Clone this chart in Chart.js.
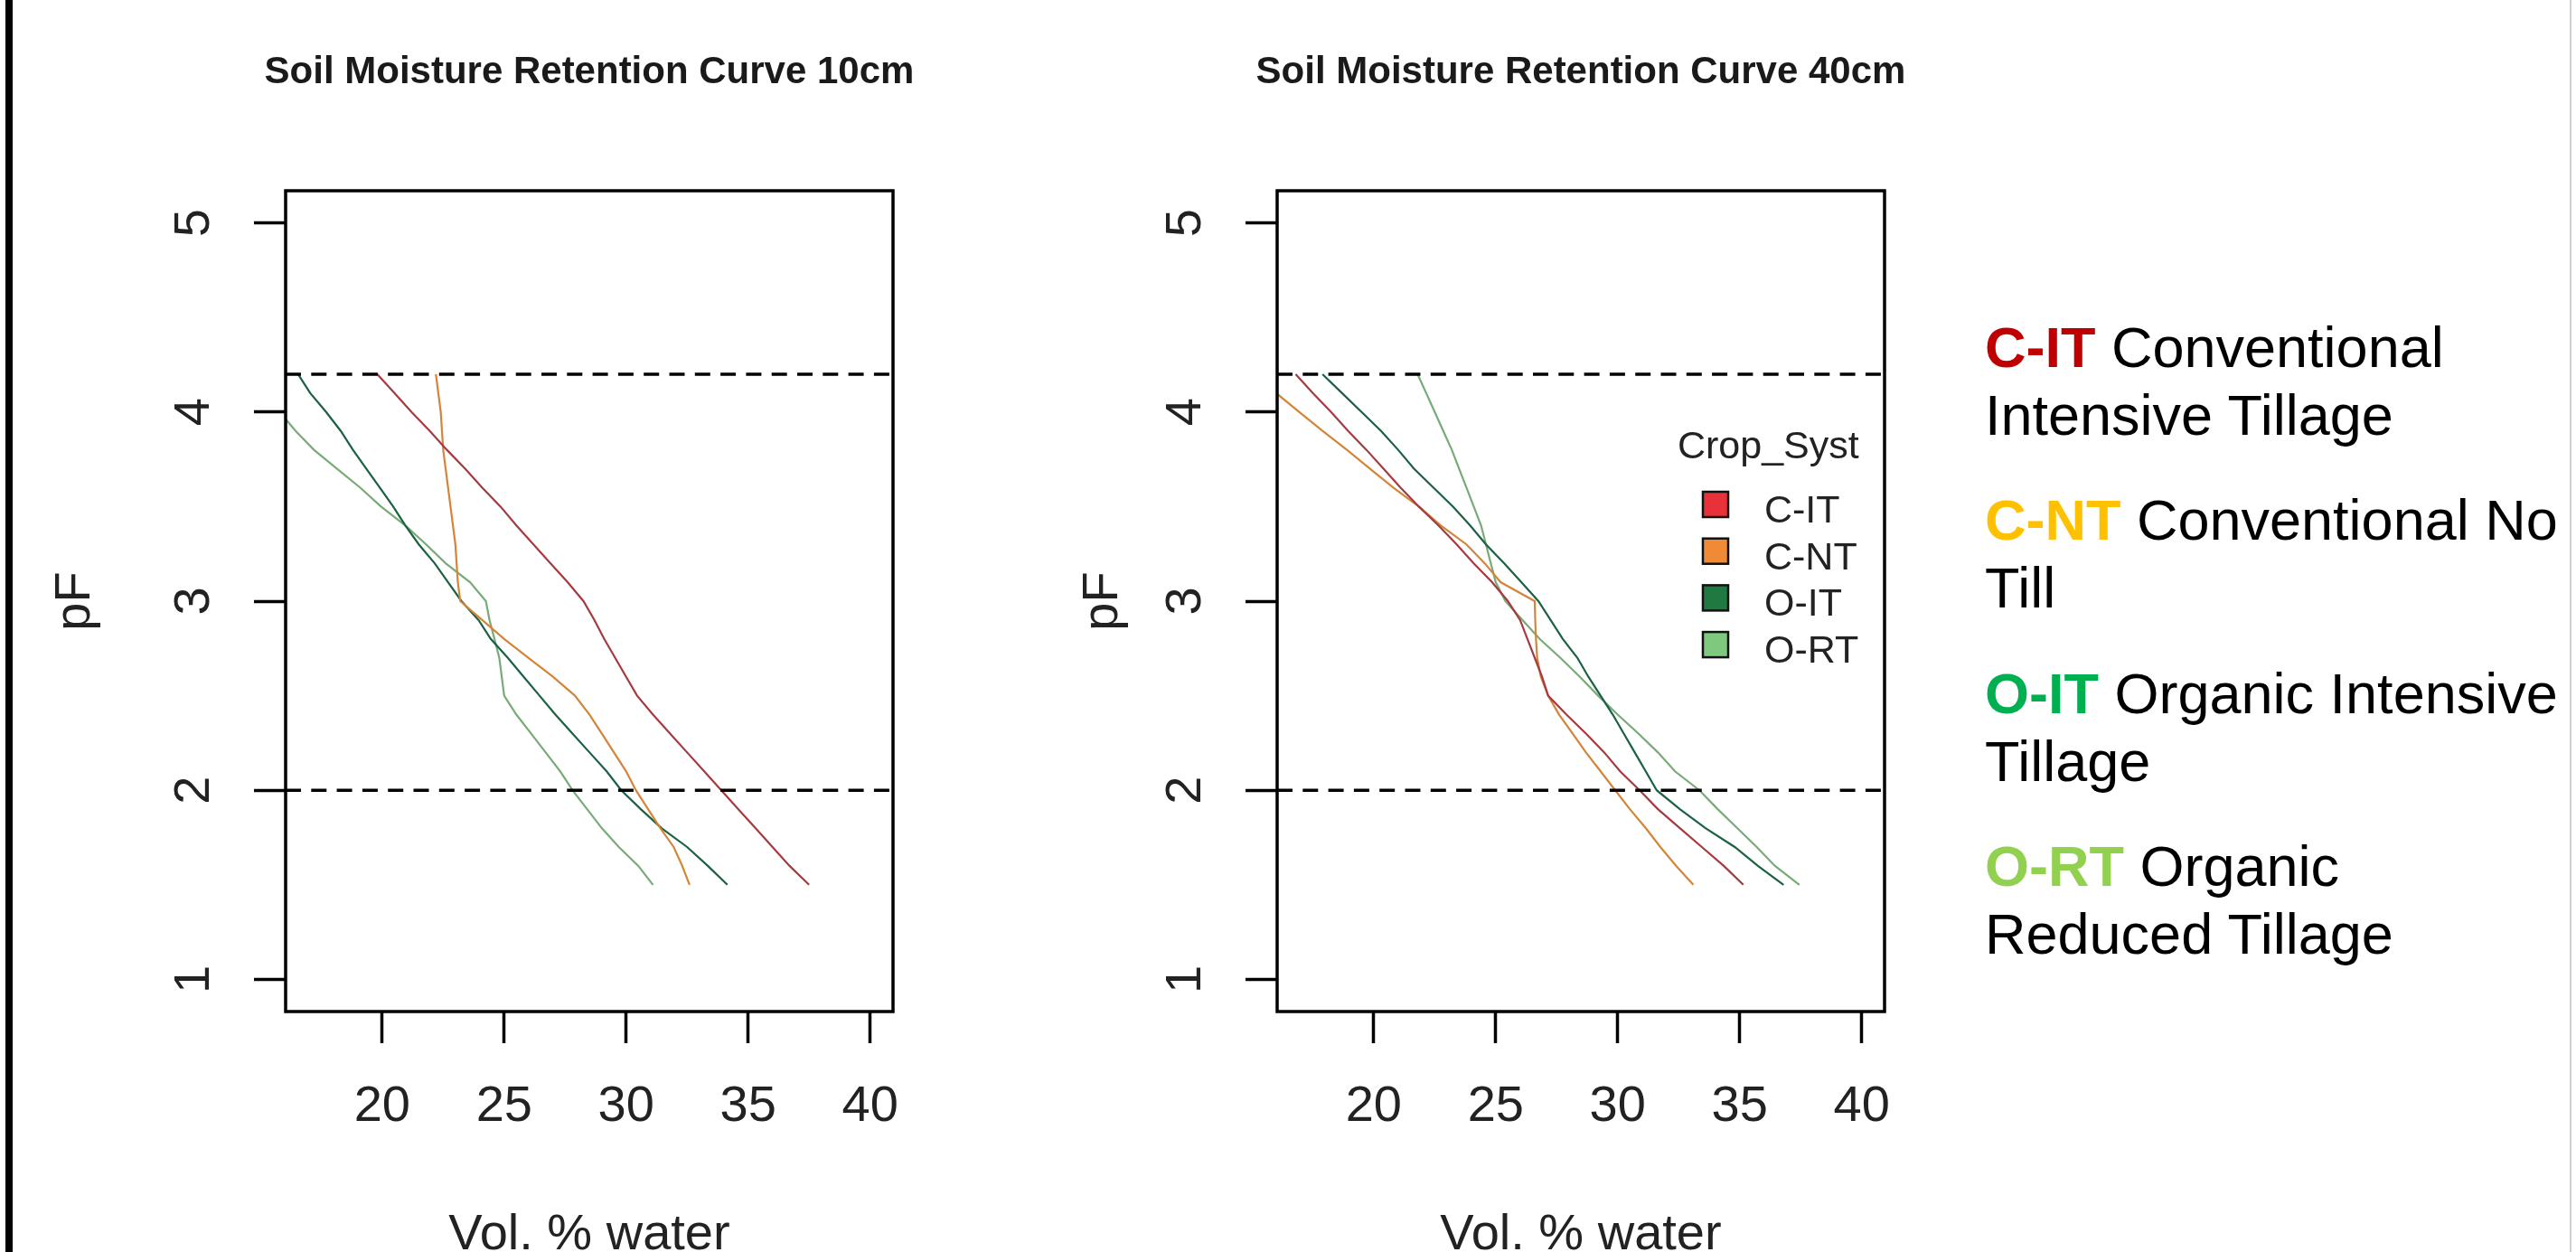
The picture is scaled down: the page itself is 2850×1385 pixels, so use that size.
<!DOCTYPE html>
<html><head><meta charset="utf-8">
<script src="https://cdn.jsdelivr.net/npm/chart.js@4.4.1/dist/chart.umd.min.js"></script>
<style>
html,body{margin:0;padding:0;background:#fff;width:2850px;height:1385px;overflow:hidden;position:relative;}
canvas{position:absolute;top:0;}
#c1{left:0px;}
#c2{left:1097px;}
.bar{position:absolute;left:6px;top:0;width:8px;height:1385px;background:#000;z-index:5;}
.edge{position:absolute;left:2843px;top:0;width:2px;height:1385px;background:#cfcfcf;}
.key{position:absolute;left:2196px;font-family:"Liberation Sans",Arial,sans-serif;font-size:63px;line-height:75px;color:#000;white-space:nowrap;}
.key b{font-weight:bold;}
</style></head>
<body>
<canvas id="c1" width="1100" height="1385"></canvas>
<canvas id="c2" width="1100" height="1385"></canvas>
<div class="bar"></div>
<div class="edge"></div>
<div class="key" style="top:346.7px"><b style="color:#C00000">C-IT</b> Conventional<br>Intensive Tillage</div>
<div class="key" style="top:537.7px"><b style="color:#FFC000">C-NT</b> Conventional No<br>Till</div>
<div class="key" style="top:729.7px"><b style="color:#00B050">O-IT</b> Organic Intensive<br>Tillage</div>
<div class="key" style="top:920.7px"><b style="color:#92D050">O-RT</b> Organic<br>Reduced Tillage</div>
<script>
// ---- data ----
const PF = [4.2, 4.1, 4.0, 3.9, 3.8, 3.7, 3.6, 3.5, 3.4, 3.3, 3.2, 3.1, 3.0, 2.9, 2.8, 2.7, 2.6, 2.5, 2.4, 2.3, 2.2, 2.1, 2.0, 1.9, 1.8, 1.7, 1.6, 1.5];
const groups = ['C-IT', 'C-NT', 'O-IT', 'O-RT'];
// 10 cm
const cit10 = [19.8, 20.5, 21.2, 21.95, 22.65, 23.4, 24.1, 24.85, 25.5, 26.2, 26.9, 27.6, 28.25, 28.7, 29.1, 29.55, 30.0, 30.45, 31.1, 31.8, 32.5, 33.2, 33.9, 34.6, 35.3, 36.0, 36.7, 37.5];
const cnt10 = [22.2, 22.3, 22.4, 22.45, 22.5, 22.6, 22.7, 22.8, 22.9, 23.0, 23.05, 23.1, 23.2, 24.1, 25.0, 26.0, 27.0, 27.9, 28.5, 29.0, 29.5, 30.0, 30.4, 30.9, 31.4, 31.95, 32.3, 32.6];
const oit10 = [16.55, 17.05, 17.7, 18.3, 18.8, 19.35, 19.9, 20.45, 20.95, 21.5, 22.15, 22.7, 23.25, 23.95, 24.45, 25.15, 25.8, 26.45, 27.1, 27.8, 28.5, 29.2, 29.8, 30.6, 31.45, 32.5, 33.35, 34.15];
const ort10 = [14.0, 14.9, 15.8, 16.45, 17.2, 18.15, 19.1, 19.95, 20.95, 21.8, 22.6, 23.6, 24.25, 24.4, 24.6, 24.8, 24.9, 25.0, 25.5, 26.1, 26.7, 27.3, 27.8, 28.4, 29.0, 29.7, 30.5, 31.1];
// 40 cm
const cit40 = [16.8, 17.5, 18.25, 18.95, 19.7, 20.4, 21.1, 21.85, 22.65, 23.4, 24.1, 24.85, 25.5, 26.0, 26.3, 26.6, 26.9, 27.15, 27.9, 28.7, 29.45, 30.1, 30.9, 31.65, 32.55, 33.45, 34.35, 35.15];
const cnt40 = [15.1, 16.0, 16.95, 17.9, 18.9, 19.85, 20.8, 21.85, 22.75, 23.8, 24.55, 25.2, 26.6, 26.62, 26.65, 26.7, 26.85, 27.15, 27.6, 28.15, 28.7, 29.3, 29.9, 30.5, 31.15, 31.75, 32.4, 33.1];
const oit40 = [17.9, 18.7, 19.5, 20.3, 21.0, 21.65, 22.45, 23.25, 23.95, 24.6, 25.35, 26.05, 26.75, 27.25, 27.75, 28.35, 28.8, 29.3, 29.8, 30.25, 30.7, 31.15, 31.6, 32.55, 33.6, 34.8, 35.75, 36.8];
const ort40 = [21.8, 22.15, 22.5, 22.85, 23.2, 23.5, 23.8, 24.1, 24.4, 24.6, 24.8, 25.0, 25.4, 26.1, 26.8, 27.65, 28.45, 29.2, 30.0, 30.85, 31.65, 32.35, 33.35, 34.1, 34.9, 35.7, 36.45, 37.45];
// axes
const xTicks = [20, 25, 30, 35, 40];
const yTicks = [1, 2, 3, 4, 5];
const refLines = [4.2, 2.0];
const X_MIN = 16.04, X_MAX = 40.94, Y_MIN = 0.83, Y_MAX = 5.17;

// ---- styles ----
const lineColors = ['#a53b41', '#d4853a', '#1b6142', '#78ab78'];
const keyColors = ['#e8323a', '#f08a36', '#1e7a40', '#7fc97f'];
const FONT = '"Liberation Sans", Arial, sans-serif';
Chart.defaults.font.family = FONT;

const decor = {
  id: 'decor',
  afterDraw(chart, args, o) {
    const {ctx, chartArea: {left, top, right, bottom}} = chart;
    ctx.save();
    ctx.lineWidth = 3.5;
    ctx.strokeStyle = '#000';
    ctx.strokeRect(left, top, right - left, bottom - top);
    ctx.font = 'bold 42px ' + FONT;
    ctx.fillStyle = '#1a1a1a';
    ctx.textAlign = 'center';
    ctx.textBaseline = 'alphabetic';
    ctx.fillText(o.title, (left + right) / 2, 92);
    if (o.legend) {
      ctx.font = '43px ' + FONT;
      ctx.textAlign = 'left';
      ctx.fillStyle = '#222';
      ctx.fillText('Crop_Syst', 759, 507);
      groups.forEach((g, i) => {
        const base = 578 + i * 51.7;
        ctx.fillStyle = keyColors[i];
        ctx.fillRect(787, base - 34, 28, 28);
        ctx.lineWidth = 2.5;
        ctx.strokeStyle = '#111';
        ctx.strokeRect(787, base - 34, 28, 28);
        ctx.fillStyle = '#222';
        ctx.fillText(g, 855, base);
      });
    }
    ctx.restore();
  }
};

function makeChart(id, title, series, legend, yTitlePad) {
  const datasets = [];
  refLines.forEach(v => datasets.push({
    data: [{x: X_MIN, y: v}, {x: X_MAX, y: v}],
    borderColor: '#000', borderWidth: 3.5, borderDash: [17, 11.3],
    pointRadius: 0, showLine: true, clip: 0
  }));
  series.forEach((s, i) => datasets.push({
    label: groups[i],
    data: PF.map((p, k) => ({x: s[k], y: p})),
    borderColor: lineColors[i], borderWidth: 2.2,
    pointRadius: 0, showLine: true, tension: 0, clip: 0
  }));
  const gridOpts = {display: true, drawOnChartArea: false, drawTicks: true, tickLength: 35, tickWidth: 3.5, tickColor: '#000', color: '#000'};
  return new Chart(document.getElementById(id), {
    type: 'scatter',
    data: {datasets},
    options: {
      responsive: false, animation: false, devicePixelRatio: 1,
      layout: {padding: {left: 0, top: 211, right: 112, bottom: 0}},
      plugins: {legend: {display: false}, tooltip: {enabled: false}, decor: {title, legend}},
      scales: {
        x: {
          type: 'linear', min: X_MIN, max: X_MAX,
          afterBuildTicks: s => { s.ticks = xTicks.map(v => ({value: v})); },
          afterFit: s => { s.height = 266; },
          ticks: {autoSkip: false, maxRotation: 0, minRotation: 0, padding: 37, color: '#222', font: {size: 56}},
          grid: gridOpts,
          border: {display: false},
          title: {display: true, text: 'Vol. % water', color: '#222', font: {size: 56, lineHeight: 0.66}, padding: {top: 0, bottom: 0}}
        },
        y: {
          type: 'linear', min: Y_MIN, max: Y_MAX,
          afterBuildTicks: s => { s.ticks = yTicks.map(v => ({value: v})); },
          afterFit: s => { s.width = 316; },
          ticks: {autoSkip: false, minRotation: 90, maxRotation: 90, crossAlign: 'center', padding: 50, color: '#222', font: {size: 56}},
          grid: gridOpts,
          border: {display: false},
          title: {display: true, text: 'pF', color: '#222', font: {size: 56}, padding: {top: yTitlePad, bottom: 0}}
        }
      }
    },
    plugins: [decor]
  });
}

makeChart('c1', 'Soil Moisture Retention Curve 10cm', [cit10, cnt10, oit10, ort10], false, 50);
makeChart('c2', 'Soil Moisture Retention Curve 40cm', [cit40, cnt40, oit40, ort40], true, 90);
</script>
</body></html>
